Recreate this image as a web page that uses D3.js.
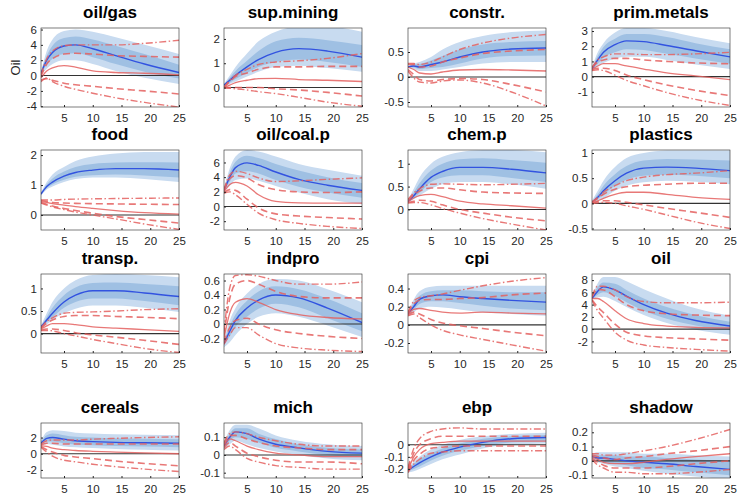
<!DOCTYPE html>
<html>
<head>
<meta charset="utf-8">
<script src="https://cdn.jsdelivr.net/npm/d3@7"></script>
<style>
  body { margin: 0; background: #fff; }
  text { font-family: "Liberation Sans", Arial, sans-serif; }
</style>
</head>
<body>
<div id="chart-area"></div>
<script>
const hz = [1, 2, 3, 5, 7, 10, 14, 19, 25];

const names = ['oil/gas', 'sup.mining', 'constr.', 'prim.metals',
  'food', 'oil/coal.p', 'chem.p', 'plastics',
  'transp.', 'indpro', 'cpi', 'oil',
  'cereals', 'mich', 'ebp', 'shadow'];

const yDomains = [[-4.1, 6.2], [-0.8, 2.45], [-0.6, 0.98], [-2, 3.2],
  [-0.5, 2.17], [-3.2, 7.7], [-0.45, 1.3], [-0.53, 1.06],
  [-0.43, 1.32], [-0.4, 0.69], [-0.31, 0.56], [-3.9, 9],
  [-3, 3.8], [-0.13, 0.18], [-0.275, 0.18], [-0.12, 0.265]];

const yTicks = [[-4, -2, 0, 2, 4, 6], [0, 1, 2], [-0.5, 0, 0.5], [-1, 0, 1, 2, 3],
  [0, 1, 2], [-2, 0, 2, 4, 6], [0, 0.5, 1], [-0.5, 0, 0.5, 1],
  [0, 0.5, 1], [-0.2, 0, 0.2, 0.4, 0.6], [-0.2, 0, 0.2, 0.4], [-2, 0, 2, 4, 6, 8],
  [-2, 0, 2], [-0.1, 0, 0.1], [-0.2, -0.1, 0], [-0.1, 0, 0.1, 0.2]];

const xTicks = [5, 10, 15, 20, 25];

// blue model: median, 68% and 90% bands
const blueMed = [
  [0.3, 2.0, 3.0, 3.85, 4.0, 3.5, 2.6, 1.5, 0.4],
  [0.1, 0.3, 0.5, 0.85, 1.15, 1.45, 1.6, 1.5, 1.25],
  [0.2, 0.22, 0.2, 0.25, 0.3, 0.4, 0.5, 0.56, 0.58],
  [0.5, 1.1, 1.6, 2.1, 2.35, 2.3, 2.05, 1.7, 1.3],
  [0.7, 0.95, 1.1, 1.3, 1.42, 1.5, 1.55, 1.55, 1.5],
  [2.2, 4.0, 5.3, 5.95, 5.6, 4.7, 3.7, 2.9, 2.2],
  [0.17, 0.3, 0.45, 0.7, 0.83, 0.92, 0.92, 0.88, 0.8],
  [0.02, 0.12, 0.25, 0.45, 0.6, 0.7, 0.72, 0.7, 0.65],
  [0.15, 0.3, 0.45, 0.7, 0.85, 0.95, 0.95, 0.9, 0.82],
  [-0.27, -0.1, 0.05, 0.22, 0.33, 0.4, 0.36, 0.22, 0.02],
  [0.12, 0.2, 0.28, 0.32, 0.33, 0.31, 0.29, 0.27, 0.25],
  [5.0, 6.2, 6.9, 6.4, 5.4, 4.0, 2.6, 1.4, 0.5],
  [1.3, 1.9, 2.0, 1.8, 1.6, 1.5, 1.4, 1.35, 1.3],
  [0.05, 0.1, 0.13, 0.12, 0.09, 0.06, 0.04, 0.02, 0.01],
  [-0.21, -0.18, -0.15, -0.1, -0.06, -0.02, 0.02, 0.05, 0.06],
  [0.03, 0.02, 0.02, 0.01, 0.0, -0.01, -0.02, -0.04, -0.06]
];
const blueHi68 = [
  [0.4, 2.6, 3.9, 4.9, 5.1, 4.7, 3.9, 2.8, 1.4],
  [0.12, 0.4, 0.68, 1.1, 1.5, 1.9, 2.05, 1.95, 1.75],
  [0.21, 0.25, 0.26, 0.33, 0.42, 0.55, 0.65, 0.7, 0.72],
  [0.55, 1.35, 1.95, 2.5, 2.8, 2.8, 2.6, 2.2, 1.8],
  [0.72, 1.02, 1.22, 1.45, 1.6, 1.7, 1.75, 1.76, 1.75],
  [2.3, 4.6, 6.1, 6.9, 6.6, 5.8, 4.9, 4.0, 3.2],
  [0.18, 0.37, 0.57, 0.85, 1.0, 1.1, 1.12, 1.08, 1.02],
  [0.03, 0.18, 0.35, 0.58, 0.74, 0.85, 0.88, 0.87, 0.85],
  [0.16, 0.37, 0.57, 0.85, 1.02, 1.12, 1.13, 1.1, 1.05],
  [-0.25, -0.03, 0.13, 0.32, 0.45, 0.52, 0.48, 0.35, 0.15],
  [0.13, 0.24, 0.32, 0.37, 0.38, 0.38, 0.37, 0.36, 0.36],
  [5.1, 6.9, 7.6, 7.4, 6.4, 5.0, 3.6, 2.3, 1.2],
  [1.5, 2.3, 2.5, 2.3, 2.1, 2.0, 1.9, 1.85, 1.8],
  [0.06, 0.12, 0.15, 0.15, 0.12, 0.09, 0.06, 0.04, 0.03],
  [-0.2, -0.16, -0.12, -0.07, -0.03, 0.01, 0.05, 0.07, 0.08],
  [0.04, 0.04, 0.04, 0.04, 0.03, 0.03, 0.02, 0.01, 0.0]
];
const blueLo68 = [
  [0.2, 1.4, 2.2, 2.8, 2.9, 2.4, 1.5, 0.5, -0.4],
  [0.08, 0.2, 0.35, 0.6, 0.85, 1.05, 1.15, 1.05, 0.85],
  [0.19, 0.19, 0.16, 0.18, 0.2, 0.27, 0.37, 0.42, 0.43],
  [0.45, 0.85, 1.25, 1.6, 1.8, 1.75, 1.5, 1.2, 0.85],
  [0.68, 0.9, 1.02, 1.18, 1.28, 1.33, 1.35, 1.32, 1.25],
  [2.1, 3.4, 4.5, 4.8, 4.5, 3.6, 2.7, 1.9, 1.2],
  [0.16, 0.25, 0.36, 0.6, 0.7, 0.75, 0.75, 0.69, 0.6],
  [0.01, 0.08, 0.17, 0.35, 0.47, 0.55, 0.57, 0.55, 0.5],
  [0.14, 0.25, 0.36, 0.57, 0.7, 0.78, 0.78, 0.72, 0.63],
  [-0.29, -0.17, -0.04, 0.1, 0.21, 0.28, 0.23, 0.08, -0.1],
  [0.11, 0.17, 0.23, 0.26, 0.26, 0.24, 0.21, 0.18, 0.16],
  [4.9, 5.6, 6.0, 5.4, 4.4, 3.0, 1.7, 0.6, -0.2],
  [1.1, 1.5, 1.5, 1.3, 1.15, 1.05, 0.95, 0.9, 0.8],
  [0.04, 0.08, 0.1, 0.09, 0.07, 0.04, 0.02, 0.0, -0.01],
  [-0.22, -0.2, -0.18, -0.13, -0.09, -0.05, -0.01, 0.02, 0.03],
  [0.02, 0.0, -0.01, -0.02, -0.03, -0.05, -0.06, -0.08, -0.1]
];
const blueHi90 = [
  [0.5, 3.2, 4.7, 5.8, 6.0, 5.7, 5.0, 4.0, 2.8],
  [0.15, 0.5, 0.85, 1.4, 1.9, 2.3, 2.5, 2.5, 2.3],
  [0.22, 0.27, 0.3, 0.4, 0.55, 0.7, 0.82, 0.9, 0.93],
  [0.6, 1.6, 2.2, 2.9, 3.2, 3.2, 3.0, 2.6, 2.2],
  [0.75, 1.1, 1.35, 1.6, 1.8, 1.95, 2.05, 2.1, 2.1],
  [2.4, 5.2, 6.8, 7.7, 7.5, 6.8, 5.8, 5.0, 4.2],
  [0.2, 0.45, 0.7, 1.0, 1.15, 1.25, 1.3, 1.3, 1.25],
  [0.05, 0.25, 0.45, 0.72, 0.9, 1.0, 1.05, 1.05, 1.05],
  [0.18, 0.45, 0.7, 1.0, 1.18, 1.3, 1.32, 1.3, 1.25],
  [-0.22, 0.05, 0.22, 0.42, 0.55, 0.62, 0.6, 0.48, 0.3],
  [0.14, 0.28, 0.37, 0.42, 0.43, 0.43, 0.43, 0.43, 0.43],
  [5.2, 7.5, 8.5, 8.5, 7.8, 6.5, 5.0, 3.4, 2.2],
  [1.6, 2.7, 2.9, 2.8, 2.6, 2.5, 2.4, 2.35, 2.3],
  [0.07, 0.14, 0.17, 0.17, 0.15, 0.11, 0.08, 0.06, 0.05],
  [-0.19, -0.14, -0.1, -0.04, 0.0, 0.04, 0.07, 0.09, 0.1],
  [0.05, 0.06, 0.06, 0.06, 0.06, 0.05, 0.05, 0.04, 0.03]
];
const blueLo90 = [
  [0.1, 0.9, 1.5, 2.0, 2.0, 1.5, 0.6, -0.3, -1.1],
  [0.05, 0.15, 0.25, 0.45, 0.65, 0.85, 0.9, 0.8, 0.65],
  [0.18, 0.16, 0.12, 0.12, 0.15, 0.2, 0.27, 0.3, 0.3],
  [0.4, 0.7, 0.9, 1.2, 1.3, 1.3, 1.1, 0.8, 0.5],
  [0.65, 0.85, 0.95, 1.1, 1.2, 1.25, 1.25, 1.2, 1.1],
  [2.0, 2.8, 3.6, 3.8, 3.5, 2.8, 1.9, 1.0, 0.3],
  [0.15, 0.22, 0.3, 0.45, 0.55, 0.6, 0.6, 0.55, 0.45],
  [0.0, 0.05, 0.1, 0.25, 0.35, 0.42, 0.45, 0.43, 0.38],
  [0.12, 0.2, 0.3, 0.45, 0.55, 0.62, 0.62, 0.57, 0.48],
  [-0.32, -0.25, -0.15, 0.0, 0.1, 0.15, 0.1, -0.02, -0.18],
  [0.1, 0.14, 0.18, 0.2, 0.19, 0.17, 0.14, 0.12, 0.1],
  [4.8, 5.2, 5.3, 4.6, 3.6, 2.3, 1.0, -0.1, -0.9],
  [1.0, 1.2, 1.1, 0.9, 0.8, 0.7, 0.6, 0.5, 0.4],
  [0.03, 0.06, 0.08, 0.06, 0.04, 0.02, 0.0, -0.02, -0.03],
  [-0.23, -0.22, -0.2, -0.16, -0.12, -0.08, -0.03, 0.0, 0.01],
  [0.01, -0.01, -0.02, -0.04, -0.05, -0.07, -0.09, -0.11, -0.13]
];

// red model: median, 68% (dashed) and 90% (dash-dot) bands
const redMed = [
  [-0.3, 0.6, 1.0, 1.3, 1.1, 0.6, 0.4, 0.3, 0.1],
  [0.0, 0.1, 0.2, 0.3, 0.37, 0.38, 0.33, 0.3, 0.25],
  [0.2, 0.15, 0.08, 0.06, 0.1, 0.14, 0.15, 0.14, 0.12],
  [0.5, 0.7, 0.85, 0.85, 0.7, 0.5, 0.25, 0.05, -0.2],
  [0.45, 0.42, 0.38, 0.33, 0.28, 0.22, 0.15, 0.08, 0.03],
  [2.0, 3.0, 3.3, 2.8, 1.6, 0.7, 0.5, 0.45, 0.45],
  [0.17, 0.25, 0.3, 0.33, 0.28, 0.18, 0.12, 0.08, 0.03],
  [0.0, 0.05, 0.1, 0.18, 0.22, 0.22, 0.18, 0.12, 0.08],
  [0.1, 0.17, 0.22, 0.22, 0.2, 0.15, 0.12, 0.09, 0.05],
  [-0.2, 0.15, 0.3, 0.35, 0.3, 0.2, 0.13, 0.09, 0.07],
  [0.12, 0.17, 0.18, 0.16, 0.14, 0.13, 0.14, 0.13, 0.12],
  [5.0, 5.0, 4.5, 3.0, 1.7, 0.9, 0.5, 0.3, 0.2],
  [1.0, 0.9, 0.7, 0.5, 0.4, 0.3, 0.2, 0.1, 0.0],
  [0.05, 0.09, 0.08, 0.05, 0.03, 0.01, 0.0, -0.01, -0.01],
  [-0.21, -0.1, -0.04, 0.01, 0.02, 0.03, 0.03, 0.03, 0.03],
  [0.03, 0.01, -0.01, -0.02, -0.02, -0.01, 0.01, 0.03, 0.05]
];
const redHi68 = [
  [-0.1, 1.5, 2.2, 2.8, 2.9, 2.8, 2.6, 2.5, 2.4],
  [0.0, 0.25, 0.45, 0.6, 0.75, 0.85, 0.85, 0.87, 0.87],
  [0.25, 0.25, 0.2, 0.22, 0.3, 0.38, 0.47, 0.52, 0.55],
  [0.6, 0.95, 1.1, 1.2, 1.2, 1.1, 1.0, 0.9, 0.85],
  [0.48, 0.45, 0.42, 0.4, 0.39, 0.38, 0.37, 0.36, 0.35],
  [2.2, 3.8, 4.2, 3.9, 3.0, 2.3, 2.0, 1.9, 2.0],
  [0.2, 0.32, 0.4, 0.47, 0.47, 0.43, 0.38, 0.36, 0.35],
  [0.02, 0.1, 0.18, 0.28, 0.33, 0.36, 0.38, 0.4, 0.4],
  [0.12, 0.23, 0.3, 0.38, 0.4, 0.4, 0.38, 0.36, 0.33],
  [-0.15, 0.35, 0.55, 0.6, 0.55, 0.45, 0.38, 0.36, 0.36],
  [0.13, 0.23, 0.27, 0.28, 0.28, 0.29, 0.3, 0.33, 0.35],
  [5.2, 6.5, 6.4, 5.3, 4.0, 3.0, 2.5, 2.3, 2.2],
  [1.1, 1.3, 1.3, 1.2, 1.2, 1.2, 1.2, 1.2, 1.2],
  [0.06, 0.11, 0.11, 0.09, 0.07, 0.05, 0.04, 0.03, 0.03],
  [-0.2, -0.07, 0.0, 0.05, 0.07, 0.07, 0.07, 0.07, 0.07],
  [0.04, 0.03, 0.02, 0.01, 0.02, 0.03, 0.05, 0.07, 0.1]
];
const redLo68 = [
  [-0.6, -0.4, -0.6, -1.0, -1.2, -1.4, -1.7, -2.0, -2.4],
  [0.0, 0.0, 0.0, 0.0, 0.0, -0.05, -0.1, -0.2, -0.35],
  [0.15, 0.05, -0.05, -0.08, -0.05, -0.03, -0.05, -0.15, -0.3],
  [0.45, 0.55, 0.55, 0.4, 0.1, -0.2, -0.55, -0.9, -1.25],
  [0.42, 0.36, 0.3, 0.22, 0.15, 0.06, -0.05, -0.15, -0.27],
  [1.9, 2.3, 2.2, 1.0, -0.2, -1.0, -1.3, -1.5, -1.7],
  [0.15, 0.18, 0.2, 0.18, 0.1, 0.0, -0.08, -0.17, -0.25],
  [0.0, 0.03, 0.05, 0.05, 0.02, -0.03, -0.1, -0.18, -0.28],
  [0.08, 0.1, 0.1, 0.07, 0.02, -0.03, -0.08, -0.15, -0.24],
  [-0.25, -0.05, 0.05, 0.08, 0.0, -0.08, -0.13, -0.17, -0.2],
  [0.11, 0.14, 0.12, 0.06, 0.02, -0.01, -0.04, -0.08, -0.12],
  [4.8, 3.6, 2.7, 0.8, -0.5, -1.1, -1.4, -1.6, -1.8],
  [0.9, 0.5, 0.2, -0.2, -0.4, -0.6, -0.9, -1.2, -1.5],
  [0.04, 0.07, 0.05, 0.01, -0.01, -0.03, -0.04, -0.04, -0.05],
  [-0.22, -0.13, -0.08, -0.03, -0.02, -0.01, -0.01, -0.01, -0.01],
  [0.02, -0.01, -0.03, -0.05, -0.05, -0.05, -0.04, -0.02, 0.0]
];
const redHi90 = [
  [0.1, 2.2, 3.2, 3.9, 4.0, 4.0, 4.0, 4.2, 4.6],
  [0.0, 0.3, 0.5, 0.75, 0.95, 1.05, 1.1, 1.2, 1.4],
  [0.27, 0.27, 0.25, 0.3, 0.4, 0.55, 0.68, 0.78, 0.85],
  [0.6, 1.1, 1.3, 1.5, 1.5, 1.45, 1.45, 1.5, 1.6],
  [0.5, 0.5, 0.5, 0.52, 0.53, 0.54, 0.55, 0.56, 0.57],
  [2.3, 4.3, 4.8, 4.5, 3.9, 3.4, 3.5, 3.7, 3.9],
  [0.22, 0.36, 0.45, 0.55, 0.56, 0.55, 0.54, 0.55, 0.57],
  [0.03, 0.12, 0.22, 0.35, 0.45, 0.52, 0.57, 0.6, 0.65],
  [0.13, 0.27, 0.35, 0.45, 0.47, 0.48, 0.5, 0.53, 0.55],
  [-0.1, 0.5, 0.67, 0.68, 0.66, 0.6, 0.55, 0.55, 0.58],
  [0.14, 0.26, 0.3, 0.32, 0.34, 0.38, 0.43, 0.48, 0.52],
  [5.4, 7.0, 7.0, 6.4, 5.3, 4.5, 4.3, 4.3, 4.4],
  [1.2, 1.6, 1.7, 1.7, 1.7, 1.8, 1.9, 2.0, 2.1],
  [0.07, 0.12, 0.13, 0.12, 0.1, 0.08, 0.06, 0.05, 0.05],
  [-0.19, -0.03, 0.05, 0.11, 0.13, 0.14, 0.13, 0.13, 0.13],
  [0.05, 0.05, 0.04, 0.04, 0.05, 0.07, 0.1, 0.15, 0.22]
];
const redLo90 = [
  [-0.8, -0.3, -0.8, -1.4, -1.8, -2.3, -2.9, -3.5, -4.1],
  [-0.02, -0.03, -0.05, -0.1, -0.17, -0.25, -0.4, -0.6, -0.77],
  [0.12, -0.02, -0.1, -0.12, -0.08, -0.06, -0.12, -0.3, -0.58],
  [0.4, 0.45, 0.4, 0.1, -0.25, -0.6, -1.05, -1.5, -1.9],
  [0.4, 0.33, 0.27, 0.18, 0.1, 0.0, -0.13, -0.3, -0.48],
  [1.8, 2.0, 1.6, 0.3, -0.9, -1.8, -2.3, -2.7, -3.0],
  [0.14, 0.15, 0.15, 0.1, 0.02, -0.08, -0.2, -0.32, -0.45],
  [-0.01, 0.01, 0.02, 0.0, -0.05, -0.12, -0.23, -0.37, -0.5],
  [0.07, 0.07, 0.06, 0.0, -0.05, -0.13, -0.22, -0.33, -0.42],
  [-0.28, -0.15, -0.05, -0.05, -0.15, -0.27, -0.33, -0.36, -0.38],
  [0.1, 0.12, 0.08, 0.0, -0.06, -0.11, -0.16, -0.22, -0.29],
  [4.7, 3.0, 1.8, -0.5, -1.8, -2.6, -3.0, -3.3, -3.6],
  [0.8, 0.2, -0.3, -0.8, -1.0, -1.3, -1.6, -1.9, -2.2],
  [0.03, 0.05, 0.03, -0.02, -0.04, -0.06, -0.07, -0.08, -0.08],
  [-0.23, -0.16, -0.12, -0.07, -0.06, -0.05, -0.05, -0.05, -0.05],
  [0.01, -0.03, -0.05, -0.08, -0.08, -0.09, -0.09, -0.08, -0.06]
];

const colLeft = [41, 224, 408, 592];
const rowTop = [28, 150, 274, 423];
const rowHeight = [79, 80, 79, 55];
const panelWidth = 138;

const lightBlue = '#c8dbf0';
const darkBlue = '#9fc0e3';
const blueLine = '#3253e0';
const redLine = '#e4605f';

const svg = d3.select('#chart-area')
  .append('svg')
  .attr('width', 740)
  .attr('height', 494);

names.forEach((name, i) => {
  const col = i % 4;
  const row = Math.floor(i / 4);
  const w = panelWidth;
  const h = rowHeight[row];

  const g = svg.append('g')
    .attr('transform', 'translate(' + colLeft[col] + ', ' + rowTop[row] + ')');

  const x = d3.scaleLinear().domain([1, 25]).range([0, w]);
  const y = d3.scaleLinear().domain(yDomains[i]).range([h, 0]);

  svg.append('clipPath').attr('id', 'clip' + i)
    .append('rect').attr('width', w).attr('height', h);

  const plot = g.append('g').attr('clip-path', 'url(#clip' + i + ')');

  const band = (lo, hi) => hz.map((t, k) => ({ t: t, lo: lo[i][k], hi: hi[i][k] }));
  const series = (arr) => hz.map((t, k) => ({ t: t, v: arr[i][k] }));

  const area = d3.area()
    .x(d => x(d.t)).y0(d => y(d.lo)).y1(d => y(d.hi))
    .curve(d3.curveMonotoneX);
  const line = d3.line()
    .x(d => x(d.t)).y(d => y(d.v))
    .curve(d3.curveMonotoneX);

  plot.append('path').attr('d', area(band(blueLo90, blueHi90))).attr('fill', lightBlue);
  plot.append('path').attr('d', area(band(blueLo68, blueHi68))).attr('fill', darkBlue);

  // zero line
  plot.append('line')
    .attr('x1', 0).attr('x2', w)
    .attr('y1', y(0)).attr('y2', y(0))
    .attr('stroke', '#333').attr('stroke-width', 1.1);

  plot.append('path').attr('d', line(series(blueMed)))
    .attr('fill', 'none').attr('stroke', blueLine).attr('stroke-width', 1.4);

  const reds = [
    [redHi90, '7,2.5,1.5,2.5', 1.4],
    [redLo90, '7,2.5,1.5,2.5', 1.4],
    [redHi68, '7,4', 1.6],
    [redLo68, '7,4', 1.6],
    [redMed, null, 1.3]
  ];
  reds.forEach(([arr, dash, sw]) => {
    plot.append('path').attr('d', line(series(arr)))
      .attr('fill', 'none')
      .attr('stroke', redLine)
      .attr('stroke-opacity', 0.85)
      .attr('stroke-width', sw)
      .attr('stroke-dasharray', dash);
  });

  // axes
  const yAxis = d3.axisLeft(y).tickValues(yTicks[i])
    .tickSizeInner(-2).tickSizeOuter(0).tickPadding(4)
    .tickFormat(d => String(d));
  const xAxis = d3.axisBottom(x).tickValues(xTicks)
    .tickSizeInner(-2).tickSizeOuter(0).tickPadding(7)
    .tickFormat(d => String(d));

  const ya = g.append('g').call(yAxis);
  const xa = g.append('g').attr('transform', 'translate(0, ' + h + ')').call(xAxis);
  [ya, xa].forEach(a => {
    a.select('.domain').remove();
    a.selectAll('line').attr('stroke', '#262626');
    a.selectAll('text').attr('fill', '#262626').attr('font-size', '11.5px')
      .attr('font-family', '"Liberation Sans", Arial, sans-serif');
  });

  g.append('rect')
    .attr('width', w).attr('height', h)
    .attr('fill', 'none').attr('stroke', '#262626').attr('stroke-width', 0.6);

  g.append('text')
    .attr('x', w / 2)
    .attr('y', -10)
    .attr('text-anchor', 'middle')
    .attr('font-size', '17px')
    .attr('font-weight', 'bold')
    .attr('fill', '#000')
    .text(name);

  if (i === 0) {
    g.append('text')
      .attr('transform', 'translate(-21, ' + (h / 2) + ') rotate(-90)')
      .attr('text-anchor', 'middle')
      .attr('font-size', '13px')
      .attr('fill', '#262626')
      .text('Oil');
  }
});
</script>
</body>
</html>
